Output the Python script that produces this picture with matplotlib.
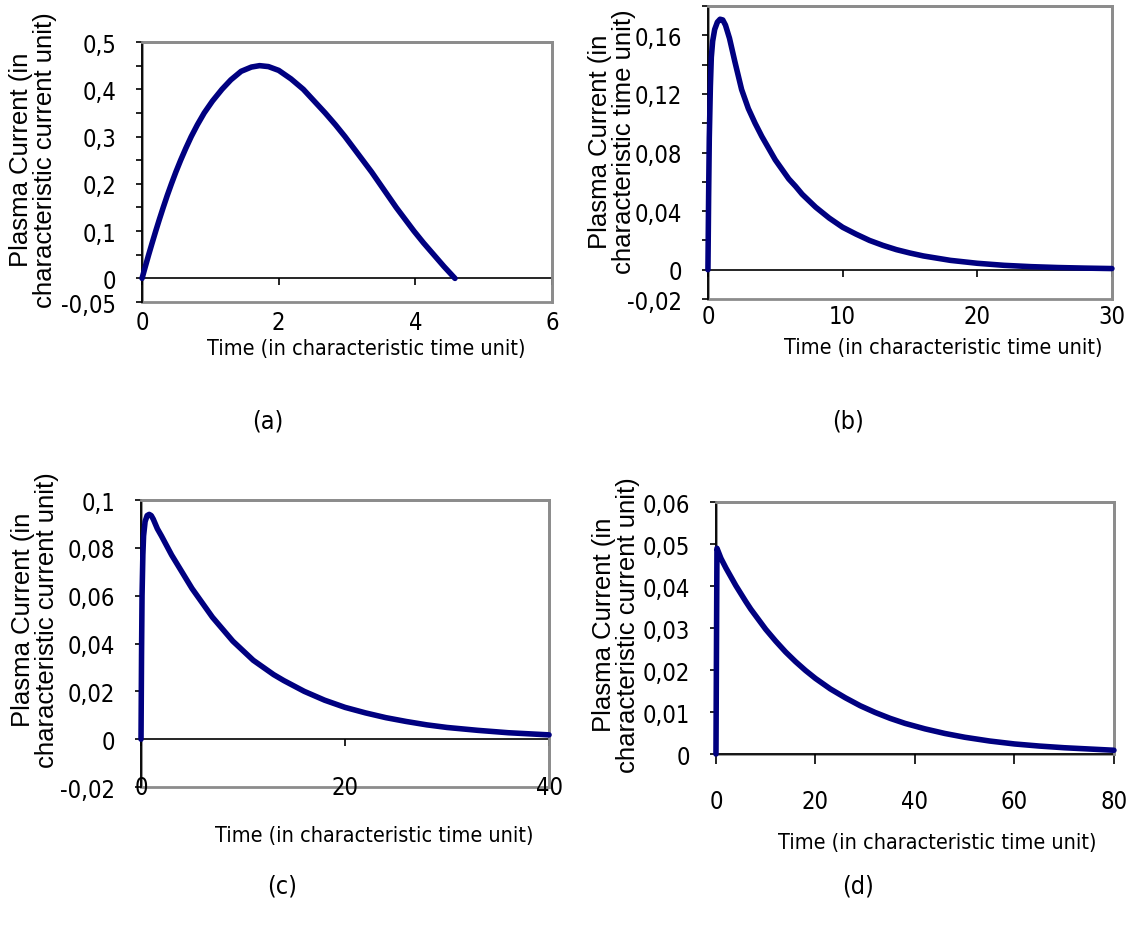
import numpy as np
import matplotlib.pyplot as plt
from matplotlib import font_manager
from matplotlib.font_manager import FontProperties

# values (decimal comma labels as in the original)
t_a = [0, 0.048, 0.097, 0.148, 0.2, 0.254, 0.31, 0.368, 0.43, 0.495, 0.565, 0.64, 0.72, 0.81, 0.91, 1.03, 1.17,
       1.3, 1.45, 1.6, 1.72, 1.85, 2.0, 2.18, 2.36, 2.52, 2.68, 2.83, 2.97, 3.1, 3.23, 3.36, 3.48, 3.6, 3.72,
       3.85, 3.98, 4.12, 4.27, 4.42, 4.58]
i_a = [0, 0.025, 0.05, 0.075, 0.10, 0.125, 0.15, 0.175, 0.20, 0.225, 0.25, 0.275, 0.30, 0.325, 0.35, 0.375, 0.40,
       0.42, 0.438, 0.447, 0.45, 0.448, 0.44, 0.422, 0.40, 0.375, 0.35, 0.325, 0.30, 0.275, 0.25, 0.225, 0.20,
       0.175, 0.15, 0.125, 0.10, 0.075, 0.05, 0.025, 0.0]

t_b = [0, 0.05, 0.1, 0.18, 0.25, 0.35, 0.5, 0.7, 0.9, 1.1, 1.3, 1.6, 2.0, 2.5, 3.0, 3.5, 4.0, 4.5, 5.0, 5.5, 6.0,
       6.5, 7.0, 8.0, 9.0, 10, 11, 12, 13, 14, 15, 16, 18, 20, 22, 24, 26, 28, 30]
i_b = [0, 0.05, 0.09, 0.125, 0.145, 0.156, 0.164, 0.169, 0.171, 0.1705, 0.167, 0.158, 0.142, 0.123, 0.110, 0.100,
       0.091, 0.083, 0.075, 0.0685, 0.062, 0.057, 0.0515, 0.0427, 0.0353, 0.029, 0.0243, 0.020, 0.0166, 0.0137,
       0.0114, 0.0094, 0.0064, 0.0044, 0.003, 0.0021, 0.0015, 0.0011, 0.0008]

t_c = [0, 0.05, 0.1, 0.18, 0.25, 0.4, 0.6, 0.8, 1.0, 1.2, 1.6, 2, 2.5, 3, 3.5, 4, 5, 6, 7, 8, 9, 10, 11, 12, 13,
       14, 16, 18, 20, 22, 24, 26, 28, 30, 33, 36, 40]
i_c = [0, 0.035, 0.06, 0.077, 0.085, 0.091, 0.0935, 0.094, 0.0935, 0.092, 0.088, 0.085, 0.081, 0.077, 0.0735,
       0.070, 0.063, 0.057, 0.051, 0.046, 0.041, 0.037, 0.033, 0.030, 0.027, 0.0245, 0.020, 0.0163, 0.0133,
       0.011, 0.009, 0.0074, 0.006, 0.0049, 0.0037, 0.0027, 0.0018]

t_d = [0, 0.2, 1, 2, 3, 4, 5, 6, 7, 8, 9, 10, 12, 14, 16, 18, 20, 23, 26, 29, 32, 35, 38, 42, 46, 50, 55, 60,
       65, 70, 75, 80]
i_d = [0, 0.049, 0.0466, 0.0443, 0.0422, 0.0401, 0.0382, 0.0363, 0.0345, 0.0329, 0.0313, 0.0297, 0.0269, 0.0243,
       0.022, 0.0199, 0.018, 0.0155, 0.0134, 0.0115, 0.0099, 0.0085, 0.0073, 0.006, 0.0049, 0.0040, 0.0031,
       0.0024, 0.0019, 0.0015, 0.0012, 0.0009]

yt_a = [-0.05, 0, 0.05, 0.1, 0.15, 0.2, 0.25, 0.3, 0.35, 0.4, 0.45, 0.5]
yl_a = ['-0,05', '0', '', '0,1', '', '0,2', '', '0,3', '', '0,4', '', '0,5']
yt_b = [-0.02, 0, 0.02, 0.04, 0.06, 0.08, 0.1, 0.12, 0.14, 0.16, 0.18]
yl_b = ['-0,02', '0', '', '0,04', '', '0,08', '', '0,12', '', '0,16', '']
yt_c = [-0.02, 0, 0.02, 0.04, 0.06, 0.08, 0.1]
yl_c = ['-0,02', '0', '0,02', '0,04', '0,06', '0,08', '0,1']
yt_d = [0, 0.01, 0.02, 0.03, 0.04, 0.05, 0.06]
yl_d = ['0', '0,01', '0,02', '0,03', '0,04', '0,05', '0,06']

xt_a = [0, 2, 4, 6]
xt_b = [0, 10, 20, 30]
xt_c = [0, 20, 40]
xt_d = [0, 20, 40, 60, 80]

ylab_cur = "Plasma Current (in\ncharacteristic current unit)"
ylab_time = "Plasma Current (in\ncharacteristic time unit)"
xlab = "Time (in characteristic time unit)"


# narrow font like Arial Narrow; fall back to DejaVu Sans Condensed
def font_file(keys):
    files = [f.fname for f in font_manager.fontManager.ttflist]
    for k in keys:
        for fn in files:
            if fn.split('/')[-1] == k:
                return fn
    return None


narrow_file = font_file(['LiberationSansNarrow-Regular.ttf', 'ArialNarrow.ttf', 'DejaVuSansCondensed.ttf'])
wide_file = font_file(['LiberationSans-Regular.ttf', 'Arial.ttf', 'DejaVuSans.ttf'])


def nfont(size):
    if narrow_file:
        return FontProperties(fname=narrow_file, size=size)
    return FontProperties(family='DejaVu Sans', stretch='condensed', size=size)


def wfont(size):
    if wide_file:
        return FontProperties(fname=wide_file, size=size)
    return FontProperties(family='DejaVu Sans', size=size)


navy = '#000080'
grey = '#8c8c8c'

fig = plt.figure(figsize=(11.3, 9.37), dpi=100)

panels = [
    # t, i, rect, xlim, ylim, xticks, yticks, ylabels, ylabel, x pad, xlabel pos, ylabel pos, tick len
    (t_a, i_a, [0.1257, 0.6766, 0.3628, 0.2775], (0, 6), (-0.05, 0.5), xt_a, yt_a, yl_a, ylab_cur, 18, (0.546, -0.177), (-0.266, 0.55), 5),
    (t_b, i_b, [0.6265, 0.6798, 0.3575, 0.3127], (0, 30), (-0.02, 0.18), xt_b, yt_b, yl_b, ylab_time, 20, (0.582, -0.164), (-0.238, 0.539), 5),
    (t_c, i_c, [0.1248, 0.1590, 0.3611, 0.3063], (0, 40), (-0.02, 0.1), xt_c, yt_c, yl_c, ylab_cur, 21, (0.571, -0.167), (-0.261, 0.585), 5),
    (t_d, i_d, [0.6336, 0.1942, 0.3522, 0.2689], (0, 80), (0, 0.06), xt_d, yt_d, yl_d, ylab_cur, 18, (0.555, -0.349), (-0.250, 0.516), 7),
]

for t, cur, rect, xl, yl, xt, yt, ytl, ylab, xpad, xlpos, ylpos, tl in panels:
    ax = fig.add_axes(rect)
    ax.plot(t, cur, color=navy, lw=4, solid_capstyle='round', solid_joinstyle='round', clip_on=False, zorder=3)
    ax.set_xlim(*xl)
    ax.set_ylim(*yl)

    # Excel style frame: grey plot area border, black axis lines
    ax.patch.set_edgecolor(grey)
    ax.patch.set_linewidth(2.0)
    for s in ['top', 'right']:
        ax.spines[s].set_color(grey)
        ax.spines[s].set_linewidth(2.0)
    ax.spines['left'].set_color('black')
    ax.spines['left'].set_linewidth(1.3)
    ax.spines['bottom'].set_position(('data', 0))
    ax.spines['bottom'].set_color('black')
    ax.spines['bottom'].set_linewidth(1.2)
    ax.spines['bottom'].set_zorder(2)

    ax.set_xticks(xt)
    ax.set_xticklabels([str(v) for v in xt], fontproperties=nfont(17))
    ax.set_yticks(yt)
    ax.set_yticklabels(ytl, fontproperties=nfont(17))
    ax.tick_params(axis='x', direction='out', length=tl, width=1.2, pad=xpad)
    ax.tick_params(axis='y', direction='out', length=4.5, width=1.2, pad=14)

    ax.set_xlabel(xlab, fontproperties=nfont(15.5), va='center')
    ax.xaxis.set_label_coords(*xlpos)
    ax.set_ylabel(ylab, fontproperties=wfont(18.5), va='center', linespacing=1.0)
    ax.yaxis.set_label_coords(*ylpos)

caps = [('(a)', 268, 422), ('(b)', 848, 422), ('(c)', 282, 887), ('(d)', 858, 887)]
for txt, px, py in caps:
    fig.text(px / 1130, 1 - py / 937, txt, fontproperties=nfont(18), ha='center', va='center')

fig.savefig('out.png', dpi=100)
